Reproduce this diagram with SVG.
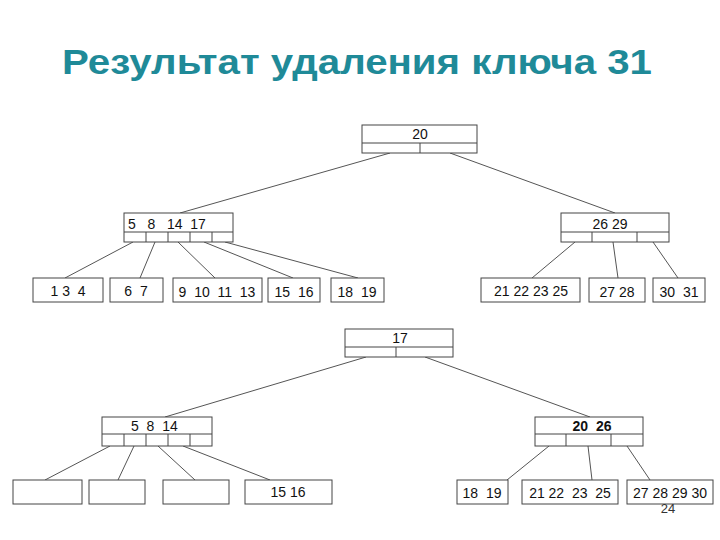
<svg xmlns="http://www.w3.org/2000/svg" width="720" height="540" viewBox="0 0 720 540" xml:space="preserve">
<style>
rect{fill:#fff;stroke:#444;stroke-width:1}
.d{stroke:#444;stroke-width:1;fill:none}
text{font-family:"Liberation Sans",Arial,sans-serif;font-size:14px;fill:#111;white-space:pre}
.c{stroke:#555;stroke-width:1;fill:none}
</style>
<rect x="0" y="0" width="720" height="540" style="stroke:none"/>
<text x="62" y="74" textLength="590" lengthAdjust="spacingAndGlyphs" style="font-size:35px;font-weight:bold;fill:#1f8a98">Результат удаления ключа 31</text>
<g id="connectors">
<path class="c" d="M390 153L180 213M450 153L615 213M133 242L65 278M155 242L140 278M178 242L215 278M204 242L293 278M225 242L358 278M575 242L532 278M613 242L618 278M653 242L678 278"/>
<path class="c" d="M366 357L165 417M425 357L590 417M110 446L45 480M134 446L118 480M158 446L195 480M183 446L270 480M549 446L507 480M588 446L592 480M627 446L650 480"/>
</g>
<g id="t1root"><rect x="362" y="125" width="115" height="28"/><path class="d" d="M362 143H477M420 143V153"/><text x="420" y="139" text-anchor="middle">20</text></g>
<g id="t1left"><rect x="124" y="213" width="109" height="29"/><path class="d" d="M124 232H233M146 232V242M168 232V242M190 232V242M212 232V242"/><text x="128" y="229">5   8   14  17</text></g>
<g id="t1right"><rect x="561" y="213" width="108" height="29"/><path class="d" d="M561 232H669M592 232V242M637 232V242"/><text x="610" y="229" text-anchor="middle">26 29</text></g>
<g id="l1"><rect x="33" y="278" width="70" height="24"/><text x="68" y="296" text-anchor="middle">1 3  4</text></g>
<g id="l2"><rect x="110" y="278" width="53" height="24"/><text x="136" y="296" text-anchor="middle">6  7</text></g>
<g id="l3"><rect x="173" y="278" width="89" height="24"/><text x="217" y="297" text-anchor="middle">9  10  11  13</text></g>
<g id="l4"><rect x="268" y="278" width="52" height="24"/><text x="294" y="297" text-anchor="middle">15  16</text></g>
<g id="l5"><rect x="331" y="278" width="53" height="24"/><text x="357" y="297" text-anchor="middle">18  19</text></g>
<g id="l6"><rect x="481" y="278" width="99" height="24"/><text x="531" y="296" text-anchor="middle">21 22 23 25</text></g>
<g id="l7"><rect x="589" y="278" width="56" height="24"/><text x="617" y="297" text-anchor="middle">27 28</text></g>
<g id="l8"><rect x="653" y="278" width="52" height="24"/><text x="679" y="297" text-anchor="middle">30  31</text></g>
<g id="t2root"><rect x="345" y="329" width="108" height="28"/><path class="d" d="M345 347H453M396 347V357"/><text x="400" y="343" text-anchor="middle">17</text></g>
<g id="t2left"><rect x="102" y="417" width="110" height="29"/><path class="d" d="M102 434H212M124 434V446M146 434V446M168 434V446M190 434V446"/><text x="131" y="431">5  8  14</text></g>
<g id="t2right"><rect x="535" y="417" width="108" height="29"/><path class="d" d="M535 434H643M566 434V446M611 434V446"/><text x="592" y="431" text-anchor="middle" style="font-weight:bold">20  26</text></g>
<g id="m1"><rect x="13" y="480" width="69" height="24"/></g>
<g id="m2"><rect x="89" y="480" width="56" height="24"/></g>
<g id="m3"><rect x="163" y="480" width="66" height="24"/></g>
<g id="m4"><rect x="245" y="480" width="87" height="24"/><text x="288" y="497" text-anchor="middle">15 16</text></g>
<g id="m5"><rect x="457" y="480" width="51" height="24"/><text x="482" y="498" text-anchor="middle">18  19</text></g>
<g id="m6"><rect x="522" y="480" width="96" height="24"/><text x="570" y="498" text-anchor="middle">21 22  23  25</text></g>
<g id="m7"><rect x="627" y="480" width="86" height="24"/><text x="670" y="498" text-anchor="middle">27 28 29 30</text></g>
<text x="668" y="513" text-anchor="middle" style="font-size:13px;fill:#333">24</text>
</svg>
